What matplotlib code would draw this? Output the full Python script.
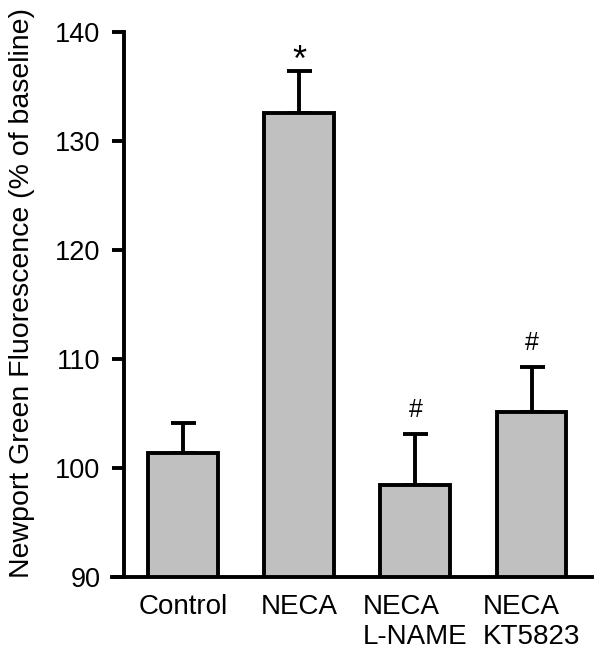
import matplotlib
matplotlib.use('Agg')
import matplotlib.pyplot as plt
import numpy as np

plt.rcParams['font.family'] = ['Liberation Sans', 'DejaVu Sans']

groups = ['Control', 'NECA', 'NECA\nL-NAME', 'NECA\nKT5823']
means = [101.4, 132.6, 98.4, 105.1]
sem = [2.7, 3.8, 4.7, 4.2]
marks = ['', '*', '#', '#']

fig = plt.figure(figsize=(6, 6.57), dpi=100)
ax = fig.add_axes([112 / 600, 1 - 577 / 657, 480 / 600, 545 / 657])

x = np.arange(len(groups))
lw = 2.8
ax.bar(x, [m - 90 for m in means], bottom=90, width=0.6, color='#c0c0c0',
       edgecolor='black', linewidth=lw, zorder=3)
ax.errorbar(x, means, yerr=[np.zeros(len(sem)), sem], fmt='none', ecolor='black',
            elinewidth=lw, capsize=9, capthick=lw, zorder=2)

for xi, m, s, t in zip(x, means, sem, marks):
    if not t:
        continue
    if t == '*':
        ax.text(xi, m + s + 0.05, t, ha='center', va='baseline', fontsize=26)
    else:
        ax.text(xi, m + s + 1.1, t, ha='center', va='bottom', fontsize=18)

ax.set_xlim(-0.61, 3.52)
ax.set_ylim(90, 140)
ax.set_yticks(np.arange(90, 141, 10))
ax.set_xticks(x)
ax.set_xticklabels(groups, fontsize=20, multialignment='left')
ax.tick_params(axis='x', length=0, pad=12)
ax.tick_params(axis='y', direction='out', length=9, width=lw, labelsize=19.5, pad=8)

for side in ['top', 'right']:
    ax.spines[side].set_visible(False)
ax.spines['left'].set_position(('data', -0.507))
ax.spines['left'].set_linewidth(lw)
ax.spines['bottom'].set_linewidth(lw)
ax.spines['left'].set_bounds(90, 140)

ax.set_ylabel('Newport Green Fluorescence (% of baseline)', fontsize=20.5)
ax.yaxis.set_label_coords(-0.16, 0.521)

fig.savefig('out.png', dpi=100)
